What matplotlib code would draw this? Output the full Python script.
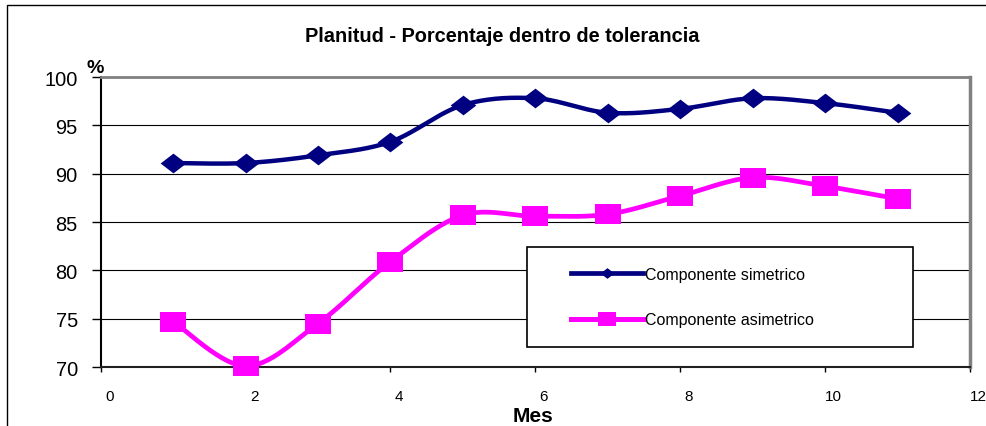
import numpy as np
import matplotlib
matplotlib.use('Agg')
import matplotlib.pyplot as plt
from matplotlib.path import Path
from matplotlib.patches import Rectangle
from matplotlib.lines import Line2D
import matplotlib.transforms as mtransforms

plt.rcParams['font.family'] = ['Liberation Sans', 'DejaVu Sans']

# ---- data ----
months = [1, 2, 3, 4, 5, 6, 7, 8, 9, 10, 11]
simetrico = [91.1, 91.1, 91.9, 93.3, 97.1, 97.8, 96.3, 96.7, 97.8, 97.3, 96.3]
asimetrico = [74.7, 70.1, 74.5, 80.9, 85.7, 85.6, 85.8, 87.7, 89.6, 88.7, 87.4]
x_ticks = [0, 2, 4, 6, 8, 10, 12]
y_ticks = [70, 75, 80, 85, 90, 95, 100]
title = 'Planitud - Porcentaje dentro de tolerancia'
x_label = 'Mes'
y_label = '%'
series_labels = ['Componente simetrico', 'Componente asimetrico']

NAVY = '#000080'
MAGENTA = '#FF00FF'


def smooth(x, y, n=30):
    """Excel-like smoothed line (cubic Bezier / Catmull-Rom) through the points."""
    P = np.column_stack([np.asarray(x, float), np.asarray(y, float)])
    Pe = np.vstack([P[0], P, P[-1]])
    t = np.linspace(0, 1, n)[:, None]
    out = []
    for i in range(len(P) - 1):
        p0, p1, p2, p3 = Pe[i], Pe[i + 1], Pe[i + 2], Pe[i + 3]
        c1 = p1 + (p2 - p0) / 6.0
        c2 = p2 - (p3 - p1) / 6.0
        seg = (1 - t) ** 3 * p1 + 3 * (1 - t) ** 2 * t * c1 + 3 * (1 - t) * t ** 2 * c2 + t ** 3 * p2
        out.append(seg if i == 0 else seg[1:])
    s = np.vstack(out)
    return s[:, 0], s[:, 1]


diamond = Path([(-1.3, 0), (0, 1), (1.3, 0), (0, -1), (-1.3, 0)],
               [Path.MOVETO, Path.LINETO, Path.LINETO, Path.LINETO, Path.CLOSEPOLY])
square = Path([(-1.3, -1), (1.3, -1), (1.3, 1), (-1.3, 1), (-1.3, -1)],
              [Path.MOVETO, Path.LINETO, Path.LINETO, Path.LINETO, Path.CLOSEPOLY])

W, H = 987, 427
fig = plt.figure(figsize=(W / 100, H / 100), dpi=100)
fig.patch.set_facecolor('white')
L, R, T, B = 100.7, 970.0, 78.0, 368.0
ax = fig.add_axes([L / W, (H - B) / H, (R - L) / W, (B - T) / H])

# lines
for yv, col, mk, lw in [(simetrico, NAVY, diamond, 3.2), (asimetrico, MAGENTA, square, 3.4)]:
    sx, sy = smooth(months, yv)
    ax.plot(sx, sy, color=col, lw=lw, zorder=3, clip_on=False, solid_capstyle='round')
    ax.plot(months, yv, linestyle='none', marker=mk, markersize=18.5, color=col,
            markeredgewidth=0, zorder=4, clip_on=False)

ax.set_xlim(0, 12)
ax.set_ylim(70, 100)
ax.set_xticks(x_ticks)
ax.set_yticks(y_ticks)
ax.set_xticklabels([str(v) for v in x_ticks])
ax.set_yticklabels([str(v) for v in y_ticks])
ax.tick_params(axis='x', direction='out', length=3.6, width=1.0, pad=12, labelsize=11, colors='black')
ax.tick_params(axis='y', direction='out', length=6.5, width=1.0, pad=10, labelsize=14.4, colors='black')
offset = mtransforms.ScaledTranslation(8.5 / 100, 0, fig.dpi_scale_trans)
for lab in ax.get_xticklabels():
    lab.set_transform(lab.get_transform() + offset)

ax.yaxis.grid(True, color='black', lw=0.8)
ax.set_axisbelow(True)

ax.spines['left'].set_color('black')
ax.spines['left'].set_linewidth(1.5)
ax.spines['bottom'].set_color('#202020')
ax.spines['bottom'].set_linewidth(1.5)
ax.spines['top'].set_color('#808080')
ax.spines['top'].set_linewidth(2)
ax.spines['right'].set_color('#808080')
ax.spines['right'].set_linewidth(2.5)

# labels
ax.set_title(title, fontsize=14.4, fontweight='bold', x=(502.5 - L) / (R - L),
             y=(B - 41.7) / (B - T), pad=0, va='baseline')
ax.set_xlabel(x_label, fontsize=15, fontweight='bold', va='baseline')
ax.xaxis.set_label_coords((533.5 - L) / (R - L), (B - 422) / (B - T))
ax.set_ylabel(y_label, fontsize=14, fontweight='bold', rotation=0, ha='center', va='baseline')
ax.yaxis.set_label_coords((95.5 - L) / (R - L), (B - 73.3) / (B - T))

# legend box
lx0, lx1, ly0, ly1 = 526.7, 912.7, 347.7, 248.3
ax.add_patch(Rectangle(((lx0 - L) / (R - L), (B - ly0) / (B - T)),
                       (lx1 - lx0) / (R - L), (ly0 - ly1) / (B - T),
                       transform=ax.transAxes, facecolor='white', edgecolor='black',
                       lw=1.2, zorder=2.5, clip_on=False))
handles = [
    Line2D([], [], color=NAVY, lw=3.4, marker=diamond, markersize=10, markeredgewidth=0),
    Line2D([], [], color=MAGENTA, lw=3.6, marker=square, markersize=12.5, markeredgewidth=0),
]
leg = ax.legend(handles, series_labels, loc='center left',
                bbox_to_anchor=((570.7 - L) / (R - L), (B - 298) / (B - T)),
                frameon=False, borderpad=0, borderaxespad=0, fontsize=11.5,
                handlelength=4.5, handletextpad=0.15, labelspacing=1.9)
leg.set_zorder(5)

# outer chart border (cropped on right/bottom)
fig.add_artist(Rectangle((7 / W, -0.2), 1.5, (H - 6) / H + 0.2, transform=fig.transFigure,
                         fill=False, edgecolor='black', lw=1.0, clip_on=False))

fig.savefig('out.png', dpi=100)
